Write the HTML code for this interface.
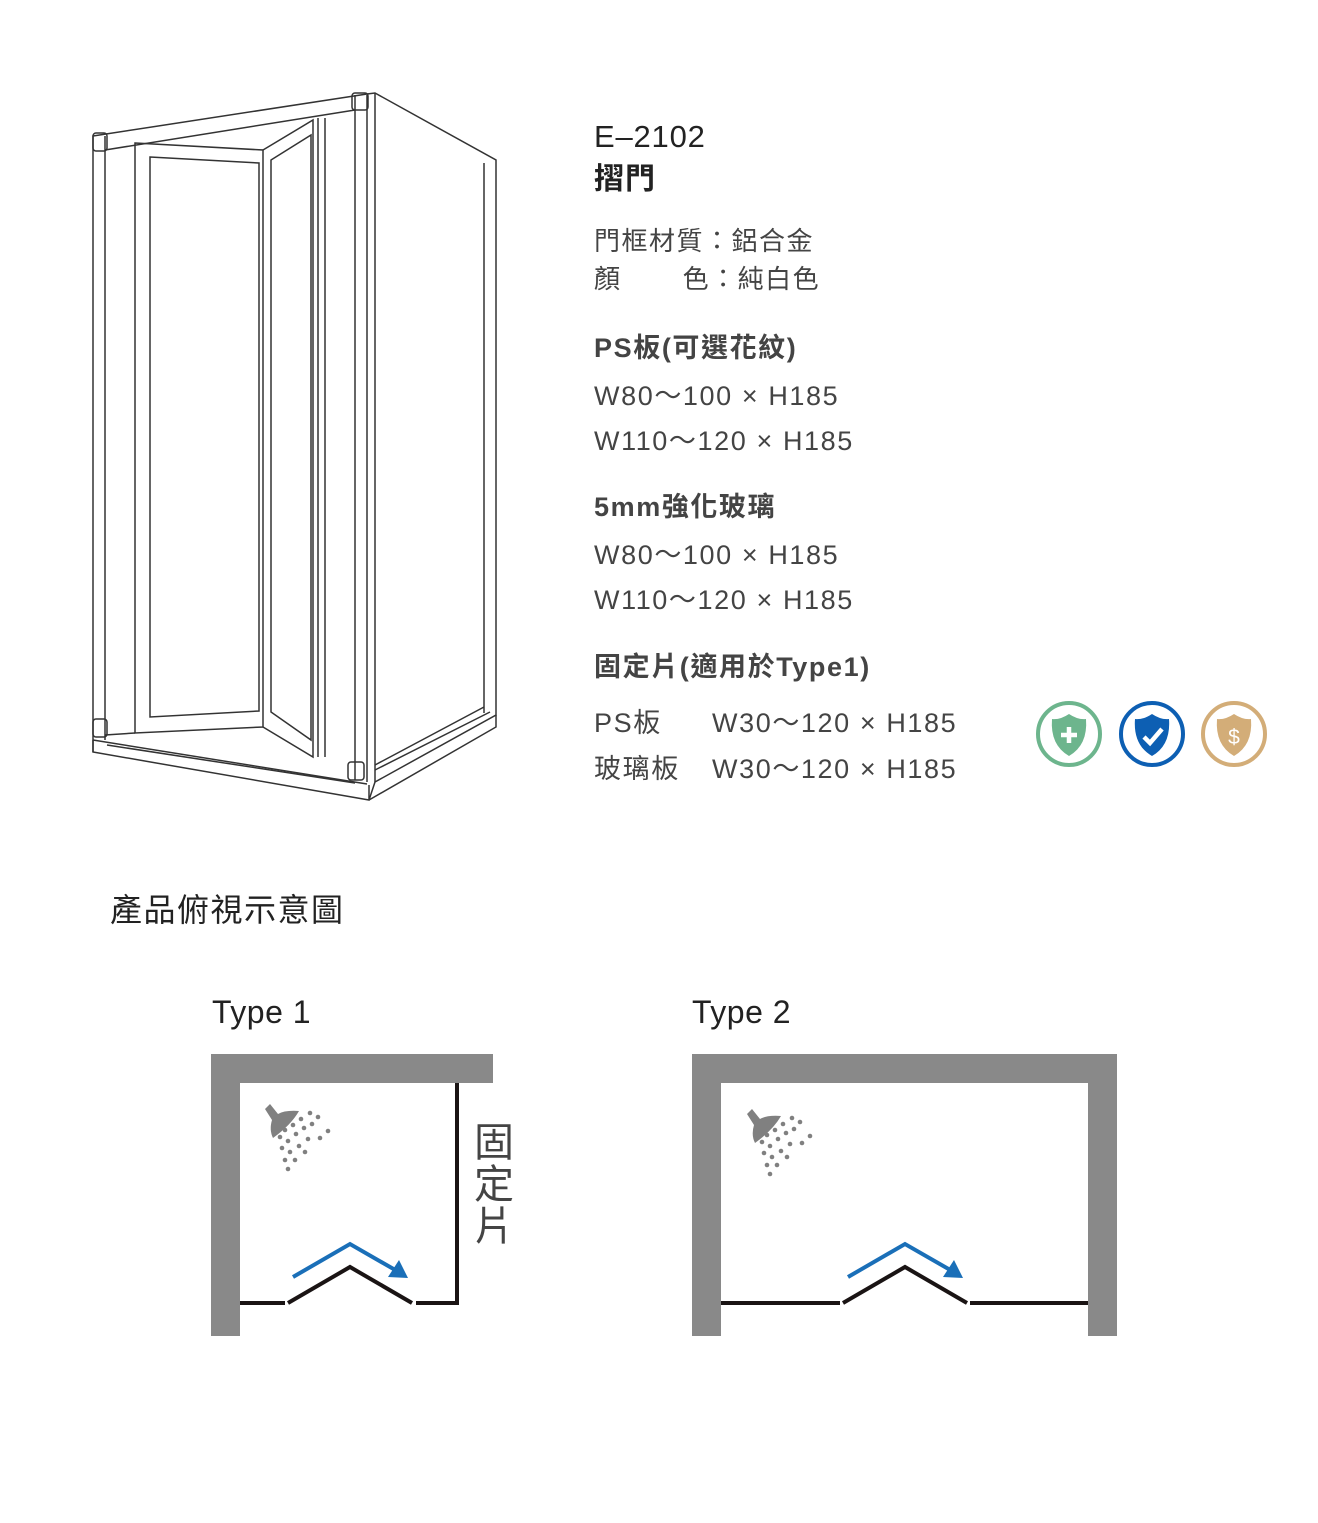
<!DOCTYPE html>
<html><head><meta charset="utf-8"><style>
body{margin:0;width:1318px;height:1523px;background:#fff;position:relative;font-family:"Liberation Sans","Noto Sans CJK TC",sans-serif;color:#333;overflow:hidden}
.t{position:absolute;white-space:nowrap;line-height:1}
.s{font-size:27px;color:#444;letter-spacing:1.6px}
</style></head><body>
<svg width="1318" height="1523" style="position:absolute;left:0;top:0" fill="none" stroke="#333" stroke-width="1.5">
<path d="M93,136 L367,94 L375,93 L496,160 L496,715 L375,782 L369,800 L93,752 L93,136 Z"/>
<path d="M105,150 L355,110"/>
<path d="M105,136 V740 M93,740 L367,784 M93,752 L93,740"/>
<path d="M355,95 V780 M367,95 V782 M375,93 V782"/>
<path d="M484,163 V713 M375,770 L490,712 M375,765 L484,707"/>
<path d="M369,785 V800 M369,800 L496,727 L496,715"/>
<rect x="93" y="133" width="14" height="18" rx="3"/>
<rect x="352" y="93" width="16" height="17" rx="3"/>
<rect x="93" y="719" width="14" height="18" rx="3"/>
<rect x="348" y="762" width="16" height="18" rx="3"/>
<path d="M135,143 L263,150 L263,727 L135,733 Z"/>
<path d="M150,157 L259,163 L259,711 L150,717 Z"/>
<path d="M263,150 L313,120 L313,757 L263,727"/>
<path d="M271,160 L311,135 L311,740 L271,712 Z"/>
<path d="M318,118 V757 M325,118 V757"/>
<path d="M107,745 L355,783 M105,735 L135,733"/>
<g stroke="none" fill="#898989">
<rect x="211" y="1054" width="29" height="282"/><rect x="211" y="1054" width="282" height="29"/>
<rect x="692" y="1054" width="29" height="282"/><rect x="692" y="1054" width="425" height="29"/><rect x="1088" y="1054" width="29" height="282"/>
</g>
<g stroke="#1a1414" stroke-width="4">
<path d="M240,1303 H285 M288,1303 L350,1267 L412,1303 M416,1303 H457 V1083"/>
<path d="M721,1303 H840 M843,1303 L905,1267 L967,1303 M970,1303 H1088"/>
</g>
<g stroke="#1a6fb8" stroke-width="4">
<path d="M293,1277 L350,1244 L397,1271"/>
<path d="M848,1277 L905,1244 L952,1271"/>
</g>
<g fill="#1a6fb8" stroke="none">
<path d="M408,1278 L388,1277 L399,1260 Z"/>
<path d="M963,1278 L943,1277 L954,1260 Z"/>
</g>
<defs>
<g id="sh">
<path d="M0,6 L5,1 L13,11 Q20,7 34,8 Q26,22 8,35 Q4,27 7,17 Z"/>
<circle cx="20" cy="27" r="2.3"/><circle cx="28" cy="22" r="2.3"/><circle cx="36" cy="16" r="2.3"/><circle cx="45" cy="10" r="2.3"/>
<circle cx="15" cy="34" r="2.3"/><circle cx="23" cy="38" r="2.3"/><circle cx="31" cy="31" r="2.3"/><circle cx="39" cy="25" r="2.3"/><circle cx="47" cy="21" r="2.3"/><circle cx="53" cy="14" r="2.3"/><circle cx="63" cy="28" r="2.3"/>
<circle cx="17" cy="45" r="2.3"/><circle cx="25" cy="49" r="2.3"/><circle cx="34" cy="43" r="2.3"/><circle cx="43" cy="36" r="2.3"/><circle cx="55" cy="35" r="2.3"/>
<circle cx="20" cy="57" r="2.3"/><circle cx="30" cy="57" r="2.3"/><circle cx="40" cy="49" r="2.3"/>
<circle cx="23" cy="66" r="2.3"/>
</g>
</defs>
<g fill="#808080" stroke="none">
<use href="#sh" transform="translate(265,1103)"/>
<use href="#sh" transform="translate(747,1108)"/>
</g>
<circle cx="1069" cy="734" r="31" stroke="#6db58d" stroke-width="4"/>
<path d="M1069,714 Q1078,720 1086,719 Q1088,745 1069,756 Q1050,745 1052,719 Q1060,720 1069,714Z" fill="#6db58d" stroke="none"/>
<path d="M1069,727 V743 M1061,735 H1077" stroke="#fff" stroke-width="4.5"/>
<circle cx="1152" cy="734" r="31" stroke="#0d5fb3" stroke-width="4"/>
<path d="M1152,714 Q1161,720 1169,719 Q1171,745 1152,756 Q1133,745 1135,719 Q1143,720 1152,714Z" fill="#0d5fb3" stroke="none"/>
<path d="M1144,737 L1150,743 L1162,729" stroke="#fff" stroke-width="4.5"/>
<circle cx="1234" cy="734" r="31" stroke="#d3ad78" stroke-width="4"/>
<path d="M1234,714 Q1243,720 1251,719 Q1253,745 1234,756 Q1215,745 1217,719 Q1225,720 1234,714Z" fill="#d3ad78" stroke="none"/>
<text x="1234" y="744" font-size="21" fill="#fff" stroke="none" text-anchor="middle" font-family="Liberation Sans">$</text>
</svg>
<div class="t" style="left:594px;top:121px;font-size:31px;color:#222;letter-spacing:0.8px">E–2102</div>
<div class="t" style="left:594px;top:165px;font-size:30px;color:#222;font-weight:bold;letter-spacing:1px">摺門</div>
<div class="t" style="left:594px;top:228px;font-size:26px;color:#444;letter-spacing:1.5px">門框材質：鋁合金</div>
<div class="t" style="left:594px;top:266px;font-size:26px;color:#444;letter-spacing:1.5px">顏&nbsp;&nbsp;&nbsp;&nbsp;&nbsp;&nbsp;&nbsp;色：純白色</div>
<div class="t s" style="left:594px;top:335px;font-weight:bold">PS板(可選花紋)</div>
<div class="t s" style="left:594px;top:383px">W80～100 × H185</div>
<div class="t s" style="left:594px;top:428px">W110～120 × H185</div>
<div class="t s" style="left:594px;top:494px;font-weight:bold">5mm強化玻璃</div>
<div class="t s" style="left:594px;top:542px">W80～100 × H185</div>
<div class="t s" style="left:594px;top:587px">W110～120 × H185</div>
<div class="t s" style="left:594px;top:654px;font-weight:bold">固定片(適用於Type1)</div>
<div class="t s" style="left:594px;top:710px">PS板</div>
<div class="t s" style="left:712px;top:710px">W30～120 × H185</div>
<div class="t s" style="left:594px;top:756px">玻璃板</div>
<div class="t s" style="left:712px;top:756px">W30～120 × H185</div>
<div class="t" style="left:110px;top:894px;font-size:32px;color:#222;letter-spacing:1.5px">產品俯視示意圖</div>
<div class="t" style="left:212px;top:996px;font-size:32px;color:#222;letter-spacing:0.5px">Type 1</div>
<div class="t" style="left:692px;top:996px;font-size:32px;color:#222;letter-spacing:0.5px">Type 2</div>
<div class="t" style="left:474px;top:1122px;font-size:40px;color:#444;width:42px;line-height:42px;white-space:normal">固定片</div>
</body></html>
